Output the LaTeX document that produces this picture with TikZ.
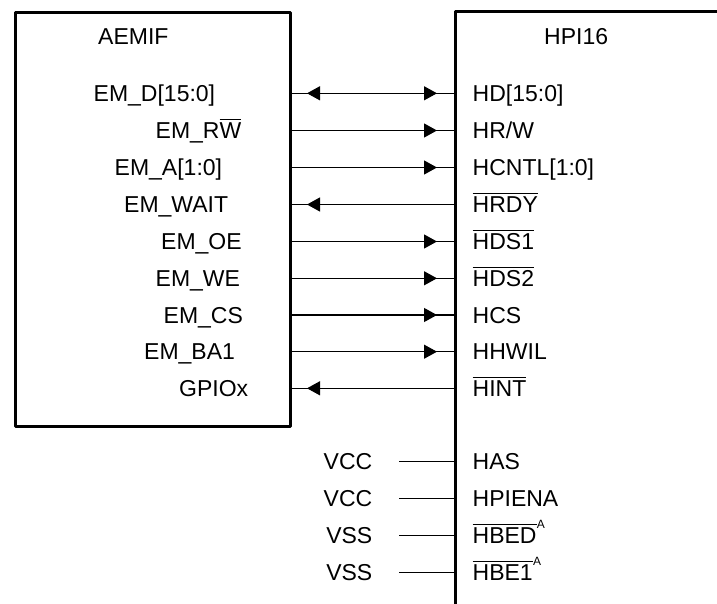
\documentclass[tikz,border=0pt]{standalone}
\usepackage{fontspec}
\setmainfont{Liberation Sans}
\usetikzlibrary{arrows.meta,decorations.markings}
\newcommand\ob[1]{\vbox{\hrule height 1.2pt\kern 2.6pt\hbox{#1}}}
\newcommand\supA{\kern0.3pt\raisebox{15.5pt}{\fontsize{12}{12}\selectfont A}}
\begin{document}
\begin{tikzpicture}[x=1pt,y=-1pt,
  lbl/.style={inner sep=0pt,font=\fontsize{23}{27}\selectfont},
  wl/.style={lbl,anchor=base west},
  el/.style={lbl,anchor=base east},
  boxline/.style={line width=3pt,line join=round,line cap=round},
  sig/.style={line width=1.2pt},
  rtip/.style={decoration={markings,mark=at position 148pt with {\arrow{Triangle[length=13pt,width=14pt]}}},postaction=decorate},
  ltip/.style={decoration={markings,mark=at position 18pt with {\arrowreversed{Triangle[length=13pt,width=14pt]}}},postaction=decorate},
  btip/.style={decoration={markings,mark=at position 18pt with {\arrowreversed{Triangle[length=13pt,width=14pt]}},mark=at position 148pt with {\arrow{Triangle[length=13pt,width=14pt]}}},postaction=decorate}]
\useasboundingbox (0,0) rectangle (717,604);
\fill[white] (0,0) rectangle (717,604);

% edge coordinates
\foreach \n/\y in {1/93.3,2/130.5,3/167.5,4/204.5,5/241.5,6/278.3,7/315,8/351.7,9/388.3}{
  \coordinate (a\n) at (289,\y);
  \coordinate (h\n) at (455,\y);
}
\foreach \n/\y in {10/461.7,11/498.7,12/535.7,13/572.3}{
  \coordinate (g\n) at (399,\y);
  \coordinate (h\n) at (455,\y);
}

% connectors
\draw[sig,btip] (a1) -- (h1);
\draw[sig,rtip] (a2) -- (h2);
\draw[sig,rtip] (a3) -- (h3);
\draw[sig,ltip] (a4) -- (h4);
\draw[sig,rtip] (a5) -- (h5);
\draw[sig,rtip] (a6) -- (h6);
\draw[sig,rtip] (a7) -- (h7);
\draw[sig,rtip] (a8) -- (h8);
\draw[sig,ltip] (a9) -- (h9);
\foreach \n in {10,11,12,13}{\draw[sig] (g\n) -- (h\n);}

% boxes
\node[boxline,draw,anchor=north west,minimum width=275.5pt,minimum height=413pt,inner sep=0pt] (aemif) at (13.5,11.5) {};
\draw[boxline] (717,11.5) -- (455,11.5) -- (455,606);
\coordinate (hpi) at (455,11.5);

% titles
\node[wl] (taemif) at (98,44.5) {AEMIF};
\node[wl] (thpi) at (544,44.5) {HPI16};

% AEMIF labels
\node[wl] (la1) at (93.5,101.5) {EM\_D[15:0]};
\node[wl] (la2) at (155.5,138.7) {EM\_R\ob{W}};
\node[wl] (la3) at (114.5,175.7) {EM\_A[1:0]};
\node[wl] (la4) at (124,212.7) {EM\_WAIT};
\node[wl] (la5) at (161,249.7) {EM\_OE};
\node[wl] (la6) at (155.5,286.5) {EM\_WE};
\node[wl] (la7) at (163.5,323.2) {EM\_CS};
\node[wl] (la8) at (144,359.9) {EM\_BA1};
\node[wl] (la9) at (179,396.5) {GPIOx};

% HPI labels
\node[wl] (lh1) at (472.5,101.5) {HD[15:0]};
\node[wl] (lh2) at (472.5,138.7) {HR/W};
\node[wl] (lh3) at (472.5,175.7) {HCNTL[1:0]};
\node[wl] (lh4) at (472.5,212.7) {\ob{HRDY}};
\node[wl] (lh5) at (472.5,249.7) {\ob{HDS1}};
\node[wl] (lh6) at (472.5,286.5) {\ob{HDS2}};
\node[wl] (lh7) at (472.5,323.2) {HCS};
\node[wl] (lh8) at (472.5,359.9) {HHWIL};
\node[wl] (lh9) at (472.5,396.5) {\ob{HINT}};
\node[wl] (lh10) at (472.5,469.9) {HAS};
\node[wl] (lh11) at (472.5,506.9) {HPIENA};
\node[wl] (lh12) at (472.5,543.9) {\ob{HBED}\supA};
\node[wl] (lh13) at (472.5,580.5) {\ob{HBE1}\supA};

% supply labels
\node[el] (lv10) at (372.5,469.9) {VCC};
\node[el] (lv11) at (372.5,506.9) {VCC};
\node[el] (lv12) at (372.5,543.9) {VSS};
\node[el] (lv13) at (372.5,580.5) {VSS};
\end{tikzpicture}
\end{document}
